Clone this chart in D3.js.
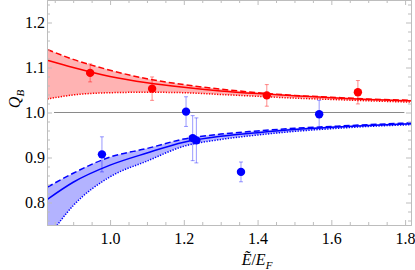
<!DOCTYPE html>
<html>
<head>
<meta charset="utf-8">
<script src="https://cdn.jsdelivr.net/npm/d3@7"></script>
<style>
  body { margin: 0; background: #fff; }
</style>
</head>
<body>
<div class="main"></div>
<script>
const width = 415;
const height = 270;
const margin = { left: 47, right: 4, top: 0, bottom: 45 };
const serif = '"Liberation Serif", "Times New Roman", Times, "DejaVu Serif", serif';

// curve samples
const curveX = [0.83, 0.9, 1.0, 1.1, 1.2, 1.3, 1.4, 1.5, 1.6, 1.7, 1.82];
const redDashed = [1.140, 1.118, 1.094, 1.075, 1.062, 1.052, 1.044, 1.038, 1.034, 1.030, 1.027];
const redSolid = [1.116, 1.100, 1.080, 1.066, 1.056, 1.048, 1.042, 1.037, 1.033, 1.029, 1.026];
const redDotted = [1.030, 1.039, 1.044, 1.045, 1.044, 1.040, 1.036, 1.032, 1.029, 1.026, 1.023];
const blueDashed = [0.834, 0.865, 0.901, 0.920, 0.941, 0.952, 0.959, 0.965, 0.969, 0.973, 0.977];
const blueSolid = [0.807, 0.845, 0.883, 0.910, 0.934, 0.947, 0.955, 0.962, 0.967, 0.971, 0.975];
const blueDotted = [0.720, 0.793, 0.857, 0.892, 0.925, 0.940, 0.950, 0.958, 0.964, 0.969, 0.973];

// measured points
const redX = [0.946, 1.114, 1.425, 1.672];
const redY = [1.088, 1.053, 1.038, 1.045];
const redErr = [0.020, 0.026, 0.024, 0.026];
const blueX = [0.978, 1.206, 1.224, 1.234, 1.355, 1.567];
const blueY = [0.907, 1.002, 0.943, 0.938, 0.868, 0.996];
const blueErr = [0.039, 0.033, 0.050, 0.050, 0.022, 0.031];

const xTicks = [1.0, 1.2, 1.4, 1.6, 1.8];
const yTicks = [0.8, 0.9, 1.0, 1.1, 1.2];

const x = d3.scaleLinear()
  .domain([0.829, 1.816])
  .range([margin.left, width - margin.right]);
const y = d3.scaleLinear()
  .domain([0.75, 1.25])
  .range([height - margin.bottom, margin.top]);

const svg = d3.select(".main").append("svg")
  .attr("width", width)
  .attr("height", height);

svg.append("clipPath").attr("id", "plot")
  .append("rect")
    .attr("x", x.range()[0]).attr("y", y.range()[1])
    .attr("width", x.range()[1] - x.range()[0])
    .attr("height", y.range()[0] - y.range()[1]);

const g = svg.append("g").attr("clip-path", "url(#plot)");

function band(upper, lower, fill) {
  const area = d3.area()
    .x((_, i) => x(curveX[i]))
    .y0((_, i) => y(lower[i]))
    .y1((_, i) => y(upper[i]))
    .curve(d3.curveMonotoneX);
  g.append("path").datum(curveX).attr("d", area).attr("fill", fill);
}

function curve(vals, color, dash) {
  const line = d3.line()
    .x((_, i) => x(curveX[i]))
    .y((d) => y(d))
    .curve(d3.curveMonotoneX);
  g.append("path").datum(vals)
    .attr("d", line)
    .attr("fill", "none")
    .attr("stroke", color)
    .attr("stroke-width", 1.5)
    .attr("stroke-dasharray", dash);
}

band(redDashed, redDotted, "#ffb3b3");
band(blueDashed, blueDotted, "#b3b3ff");

// reference line at 1
g.append("line")
  .attr("x1", x(0.848)).attr("x2", x(1.798))
  .attr("y1", y(1)).attr("y2", y(1))
  .attr("stroke", "#8a8a8a").attr("stroke-width", 1);

curve(redDashed, "#ff0000", "6,3");
curve(redSolid, "#ff0000", null);
curve(redDotted, "#ff0000", "1.3,1.4");
curve(blueDashed, "#0000ff", "6,3");
curve(blueSolid, "#0000ff", null);
curve(blueDotted, "#0000ff", "1.3,1.4");

function points(xs, ys, errs, color, barColor) {
  const p = g.append("g");
  xs.forEach((xv, i) => {
    const cx = x(xv);
    const yTop = y(ys[i] + errs[i]);
    const yBot = y(ys[i] - errs[i]);
    p.append("line").attr("x1", cx).attr("x2", cx).attr("y1", yTop).attr("y2", yBot)
      .attr("stroke", barColor).attr("stroke-width", 1);
    [yTop, yBot].forEach((yy) => {
      p.append("line").attr("x1", cx - 2).attr("x2", cx + 2).attr("y1", yy).attr("y2", yy)
        .attr("stroke", barColor).attr("stroke-width", 1);
    });
  });
  p.selectAll("circle")
    .data(xs)
    .join("circle")
      .attr("cx", (d) => x(d))
      .attr("cy", (_, i) => y(ys[i]))
      .attr("r", 4.2)
      .attr("fill", color);
}

points(redX, redY, redErr, "#ff0000", "rgba(255,0,0,0.45)");
points(blueX, blueY, blueErr, "#0000ff", "rgba(0,0,255,0.4)");

// frame with inward ticks on all sides
const frameColor = "#bdbdbd";
const xMinor = d3.range(0.85, 1.82, 0.05).filter((v) => xTicks.every((t) => Math.abs(t - v) > 1e-6));
const yMinor = d3.range(0.76, 1.25, 0.02).filter((v) => yTicks.every((t) => Math.abs(t - v) > 1e-6));

function addAxis(axisFn, scale, transform, major, minor) {
  svg.append("g").attr("transform", transform)
    .call(axisFn(scale).tickValues(minor).tickSize(-3).tickFormat("").tickSizeOuter(0));
  return svg.append("g").attr("transform", transform)
    .call(axisFn(scale).tickValues(major).tickSize(-5).tickSizeOuter(0).tickFormat(d3.format(".1f")));
}

const axBottom = addAxis(d3.axisBottom, x, `translate(0,${y.range()[0]})`, xTicks, xMinor);
axBottom.selectAll("text").attr("dy", 0).attr("y", 19);
const axTop = addAxis(d3.axisTop, x, `translate(0,${y.range()[1]})`, xTicks, xMinor);
axTop.selectAll("text").remove();
const axLeft = addAxis(d3.axisLeft, y, `translate(${x.range()[0]},0)`, yTicks, yMinor);
axLeft.selectAll("text").attr("x", -2);
const axRight = addAxis(d3.axisRight, y, `translate(${x.range()[1]},0)`, yTicks, yMinor);
axRight.selectAll("text").remove();

svg.selectAll(".domain").attr("stroke", frameColor);
svg.selectAll(".tick line").attr("stroke", frameColor);
svg.selectAll(".tick text")
  .style("font-family", serif)
  .style("font-size", "16px")
  .attr("fill", "#000");

// axis labels
const xl = svg.append("text")
  .attr("x", 257).attr("y", 265)
  .attr("text-anchor", "middle")
  .style("font-family", serif)
  .style("font-size", "16px");
xl.append("tspan").style("font-style", "italic").text("Ẽ");
xl.append("tspan").text("/");
xl.append("tspan").style("font-style", "italic").text("E");
xl.append("tspan").style("font-style", "italic").style("font-size", "11px").attr("dy", 4).text("F");

const yl = svg.append("text")
  .attr("transform", "translate(20,99) rotate(-90)")
  .attr("text-anchor", "middle")
  .style("font-family", serif)
  .style("font-size", "16px");
yl.append("tspan").style("font-style", "italic").text("Q");
yl.append("tspan").style("font-style", "italic").style("font-size", "11px").attr("dy", 4).text("B");
</script>
</body>
</html>
